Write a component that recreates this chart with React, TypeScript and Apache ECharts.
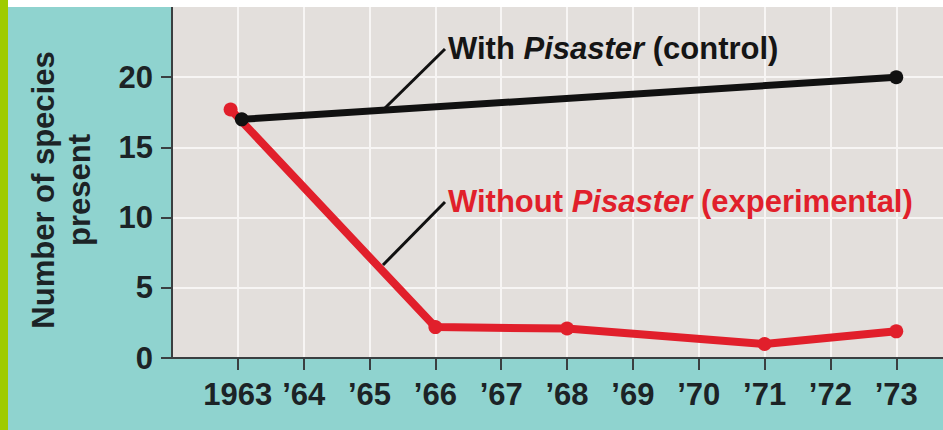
import React, { useEffect, useRef } from "react";
import * as echarts from "echarts";

// Data
const xTickYears = [1963, 1964, 1965, 1966, 1967, 1968, 1969, 1970, 1971, 1972, 1973];
const xTickLabels = ["1963", "’64", "’65", "’66", "’67", "’68", "’69", "’70", "’71", "’72", "’73"];
const yTickValues = [0, 5, 10, 15, 20];

const controlYears = [1963.06, 1973];
const controlSpecies = [17, 20];

const experimentalYears = [1962.89, 1966, 1968, 1971, 1973];
const experimentalSpecies = [17.7, 2.2, 2.1, 1.0, 1.9];

const FONT = "'Liberation Sans', Arial, Helvetica, sans-serif";
const TEXT_DARK = "#1c2326";
const RED = "#e11f2b";

export default function App() {
  const ref = useRef<HTMLDivElement>(null);

  useEffect(() => {
    if (!ref.current) return;
    const chart = echarts.init(ref.current, null, { renderer: "svg" });

    const controlData = controlYears.map((x, i) => [x, controlSpecies[i]]);
    const experimentalData = experimentalYears.map((x, i) => [x, experimentalSpecies[i]]);

    chart.setOption({
      animation: false,
      backgroundColor: "#8fd3cf",
      grid: {
        left: 172,
        right: 0,
        top: 7,
        bottom: 72,
        show: true,
        backgroundColor: "#e3dfdc",
        borderWidth: 0,
        containLabel: false,
        outerBoundsMode: "none",
      },
      xAxis: {
        type: "value",
        min: 1962,
        max: 1973.71,
        interval: 1,
        axisLine: { show: true, onZero: false, lineStyle: { color: "#3a3f41", width: 2 } },
        axisTick: {
          show: true,
          length: 12,
          customValues: xTickYears,
          lineStyle: { color: "#3a3f41", width: 2 },
        },
        axisLabel: {
          customValues: xTickYears,
          margin: 21,
          color: TEXT_DARK,
          fontFamily: FONT,
          fontWeight: "bold",
          fontSize: 31,
          formatter: (v: number) => {
            const idx = xTickYears.indexOf(Math.round(v));
            return idx >= 0 ? xTickLabels[idx] : "";
          },
        },
        splitLine: { show: true, lineStyle: { color: "#f7f5f4", width: 2 } },
      },
      yAxis: {
        type: "value",
        min: 0,
        max: 25,
        interval: 5,
        axisLine: { show: true, lineStyle: { color: "#3a3f41", width: 2 } },
        axisTick: {
          show: true,
          length: 11,
          customValues: yTickValues,
          lineStyle: { color: "#3a3f41", width: 2 },
        },
        axisLabel: {
          customValues: yTickValues,
          margin: 19,
          color: TEXT_DARK,
          fontFamily: FONT,
          fontWeight: "bold",
          fontSize: 31,
        },
        splitLine: { show: true, lineStyle: { color: "#f7f5f4", width: 2 } },
      },
      series: [
        {
          name: "Without Pisaster (experimental)",
          type: "line",
          data: experimentalData,
          symbol: "circle",
          symbolSize: 14,
          lineStyle: { color: RED, width: 8 },
          itemStyle: { color: RED },
          z: 3,
        },
        {
          name: "With Pisaster (control)",
          type: "line",
          data: controlData,
          symbol: "circle",
          symbolSize: 14,
          lineStyle: { color: "#111111", width: 7 },
          itemStyle: { color: "#111111" },
          z: 4,
        },
      ],
      graphic: [
        { type: "rect", shape: { x: 0, y: 0, width: 8, height: 430 }, style: { fill: "#9fcb00" }, z: 10 },
        { type: "rect", shape: { x: 8, y: 0, width: 935, height: 7 }, style: { fill: "#ffffff" }, z: 10 },
        {
          type: "text",
          x: 61,
          y: 190,
          rotation: Math.PI / 2,
          z: 10,
          style: {
            text: "Number of species\npresent",
            fill: TEXT_DARK,
            font: `bold 31px ${FONT}`,
            align: "center",
            verticalAlign: "middle",
            lineHeight: 36,
          },
        },
        {
          type: "line",
          shape: { x1: 445, y1: 49, x2: 384, y2: 109 },
          style: { stroke: "#111111", lineWidth: 3 },
          z: 10,
        },
        {
          type: "text",
          x: 448,
          y: 48,
          z: 10,
          style: {
            text: "{n|With }{i|Pisaster}{n| (control)}",
            align: "left",
            verticalAlign: "middle",
            rich: {
              n: { font: `bold 31px ${FONT}`, fill: "#151515" },
              i: { font: `italic bold 31px ${FONT}`, fill: "#151515" },
            },
          },
        },
        {
          type: "line",
          shape: { x1: 445, y1: 202, x2: 383, y2: 265 },
          style: { stroke: "#111111", lineWidth: 3 },
          z: 10,
        },
        {
          type: "text",
          x: 448,
          y: 201,
          z: 10,
          style: {
            text: "{n|Without }{i|Pisaster}{n| (experimental)}",
            align: "left",
            verticalAlign: "middle",
            rich: {
              n: { font: `bold 31px ${FONT}`, fill: RED },
              i: { font: `italic bold 31px ${FONT}`, fill: RED },
            },
          },
        },
      ],
    });

    return () => chart.dispose();
  }, []);

  return (
    <div
      ref={ref}
      style={{ position: "fixed", left: 0, top: 0, width: 943, height: 430 }}
    />
  );
}
